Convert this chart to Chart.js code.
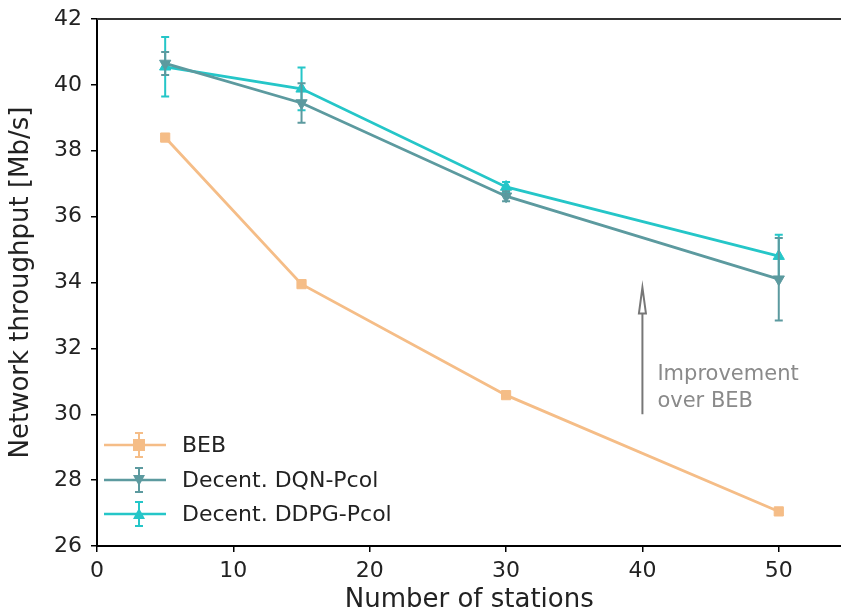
<!DOCTYPE html>
<html lang="en">
<head>
    <meta charset="UTF-8">
    <title>Network throughput vs number of stations</title>
    <script src="https://cdn.jsdelivr.net/npm/chart.js"></script>
    <style>
        html, body { margin: 0; padding: 0; background: #fff; overflow: hidden; }
        #wrap { width: 841px; height: 616px; overflow: hidden; }
    </style>
</head>
<body>
<div id="wrap"><canvas id="throughputChart" width="849" height="616"></canvas></div>

<script>
    // Data
    const stations = [5, 15, 30, 50];
    const bebValues = [38.4, 33.95, 30.58, 27.05];
    const bebErrors = [0.05, 0.05, 0.05, 0.05];
    const dqnValues = [40.65, 39.45, 36.62, 34.1];
    const dqnErrors = [0.35, 0.6, 0.15, 1.25];
    const ddpgValues = [40.55, 39.88, 36.9, 34.8];
    const ddpgErrors = [0.9, 0.65, 0.15, 0.65];

    const xTicks = [0, 10, 20, 30, 40, 50];
    const yTicks = [26, 28, 30, 32, 34, 36, 38, 40, 42];

    // Annotation arrow (data coordinates)
    const arrowX = 40;
    const arrowFrom = 30.0;
    const arrowTo = 33.85;
    const noteLines = ['Improvement', 'over BEB'];

    // Colors
    const bebColor = '#f5bd87';
    const dqnColor = '#5c9a9f';
    const ddpgColor = '#25c6c8';

    const fontFamily = '"DejaVu Sans", sans-serif';

    function toPoints(values) {
        return stations.map((s, i) => ({ x: s, y: values[i] }));
    }

    // Error bars drawn through the scales
    const errorBarPlugin = {
        id: 'errorBars',
        afterDatasetDraw(chart, args) {
            const ds = chart.data.datasets[args.index];
            if (!ds.errors) return;
            const ctx = chart.ctx;
            const xs = chart.scales.x, ys = chart.scales.y;
            ctx.save();
            ctx.strokeStyle = ds.borderColor;
            ctx.lineWidth = 2;
            ds.data.forEach((p, i) => {
                const px = xs.getPixelForValue(p.x);
                const top = ys.getPixelForValue(p.y + ds.errors[i]);
                const bottom = ys.getPixelForValue(p.y - ds.errors[i]);
                ctx.beginPath();
                ctx.moveTo(px, top); ctx.lineTo(px, bottom);
                ctx.moveTo(px - 4, top); ctx.lineTo(px + 4, top);
                ctx.moveTo(px - 4, bottom); ctx.lineTo(px + 4, bottom);
                ctx.stroke();
            });
            ctx.restore();
        }
    };

    // Top frame line, arrow annotation and legend
    const extrasPlugin = {
        id: 'extras',
        afterDraw(chart) {
            const ctx = chart.ctx;
            const area = chart.chartArea;
            const xs = chart.scales.x, ys = chart.scales.y;
            ctx.save();

            // top spine
            ctx.strokeStyle = '#333';
            ctx.lineWidth = 2;
            ctx.beginPath();
            ctx.moveTo(area.left, area.top);
            ctx.lineTo(chart.width, area.top);
            ctx.stroke();

            // arrow
            const ax = xs.getPixelForValue(arrowX);
            const ay0 = ys.getPixelForValue(arrowFrom);
            const ay1 = ys.getPixelForValue(arrowTo);
            ctx.strokeStyle = '#777';
            ctx.fillStyle = '#fff';
            ctx.lineWidth = 2;
            ctx.beginPath();
            ctx.moveTo(ax, ay0);
            ctx.lineTo(ax, ay1 + 26);
            ctx.stroke();
            ctx.beginPath();
            ctx.moveTo(ax, ay1);
            ctx.lineTo(ax - 3.5, ay1 + 26);
            ctx.lineTo(ax + 3.5, ay1 + 26);
            ctx.closePath();
            ctx.fill();
            ctx.stroke();

            ctx.fillStyle = '#8a8a8a';
            ctx.font = '21px ' + fontFamily;
            ctx.textAlign = 'left';
            ctx.textBaseline = 'middle';
            const tx = xs.getPixelForValue(41.1);
            const tyMid = (ay0 + ys.getPixelForValue(31.6)) / 2;
            ctx.fillText(noteLines[0], tx, tyMid - 13);
            ctx.fillText(noteLines[1], tx, tyMid + 14);

            // legend
            const rows = [445, 480, 514];
            chart.data.datasets.forEach((ds, i) => {
                const y = rows[i];
                ctx.strokeStyle = ds.borderColor;
                ctx.lineWidth = 2.5;
                ctx.beginPath();
                ctx.moveTo(104, y); ctx.lineTo(166, y);
                ctx.stroke();
                ctx.lineWidth = 2;
                ctx.beginPath();
                ctx.moveTo(139, y - 12); ctx.lineTo(139, y + 12);
                ctx.moveTo(135, y - 12); ctx.lineTo(143, y - 12);
                ctx.moveTo(135, y + 12); ctx.lineTo(143, y + 12);
                ctx.stroke();
                ctx.fillStyle = ds.borderColor;
                ctx.beginPath();
                if (ds.pointStyle === 'rect') {
                    ctx.rect(133, y - 6, 12, 12);
                } else if (ds.pointRotation === 180) {
                    ctx.moveTo(133, y - 5); ctx.lineTo(145, y - 5); ctx.lineTo(139, y + 6);
                } else {
                    ctx.moveTo(133, y + 5); ctx.lineTo(145, y + 5); ctx.lineTo(139, y - 6);
                }
                ctx.closePath();
                ctx.fill();
                ctx.fillStyle = '#222';
                ctx.font = '22px ' + fontFamily;
                ctx.textAlign = 'left';
                ctx.textBaseline = 'middle';
                ctx.fillText(ds.label, 182, y + 1);
            });
            ctx.restore();
        }
    };

    function makeDataset(label, values, errors, color, style, rotation) {
        return {
            label: label,
            data: toPoints(values),
            errors: errors,
            borderColor: color,
            backgroundColor: color,
            borderWidth: 2.8,
            pointStyle: style,
            pointRotation: rotation,
            pointRadius: 6.5,
            pointBorderWidth: 1,
            pointHoverRadius: 6.5,
            tension: 0
        };
    }

    new Chart(document.getElementById('throughputChart').getContext('2d'), {
        type: 'line',
        data: {
            datasets: [
                makeDataset('BEB', bebValues, bebErrors, bebColor, 'rect', 0),
                makeDataset('Decent. DQN-Pcol', dqnValues, dqnErrors, dqnColor, 'triangle', 180),
                makeDataset('Decent. DDPG-Pcol', ddpgValues, ddpgErrors, ddpgColor, 'triangle', 0)
            ]
        },
        options: {
            responsive: false,
            animation: false,
            layout: { padding: { top: 19, right: 0, left: 0, bottom: 0 } },
            plugins: {
                legend: { display: false },
                tooltip: { enabled: false }
            },
            scales: {
                x: {
                    type: 'linear',
                    min: 0,
                    max: 54.6,
                    afterBuildTicks: scale => { scale.ticks = xTicks.map(v => ({ value: v })); },
                    afterFit: scale => { scale.height = 70; },
                    grid: { drawOnChartArea: false, drawTicks: true, tickLength: 6, color: '#000', lineWidth: 1.5 },
                    border: { color: '#000', width: 2 },
                    ticks: { color: '#222', font: { family: fontFamily, size: 22, lineHeight: 1.2 }, padding: 6, maxRotation: 0 },
                    title: {
                        display: true,
                        text: 'Number of stations',
                        color: '#222',
                        font: { family: fontFamily, size: 26 },
                        padding: { top: 0, bottom: 0 }
                    }
                },
                y: {
                    min: 26,
                    max: 42,
                    afterBuildTicks: scale => { scale.ticks = yTicks.map(v => ({ value: v })); },
                    afterFit: scale => { scale.width = 97; scale.paddingTop = 0; },
                    grid: { drawOnChartArea: false, drawTicks: true, tickLength: 6, color: '#000', lineWidth: 1.5 },
                    border: { color: '#000', width: 2 },
                    ticks: { color: '#222', font: { family: fontFamily, size: 22, lineHeight: 1.2 }, padding: 9 },
                    title: {
                        display: true,
                        text: 'Network throughput [Mb/s]',
                        color: '#222',
                        font: { family: fontFamily, size: 26 },
                        padding: { top: 6, bottom: 4 }
                    }
                }
            }
        },
        plugins: [errorBarPlugin, extrasPlugin]
    });
</script>
</body>
</html>
